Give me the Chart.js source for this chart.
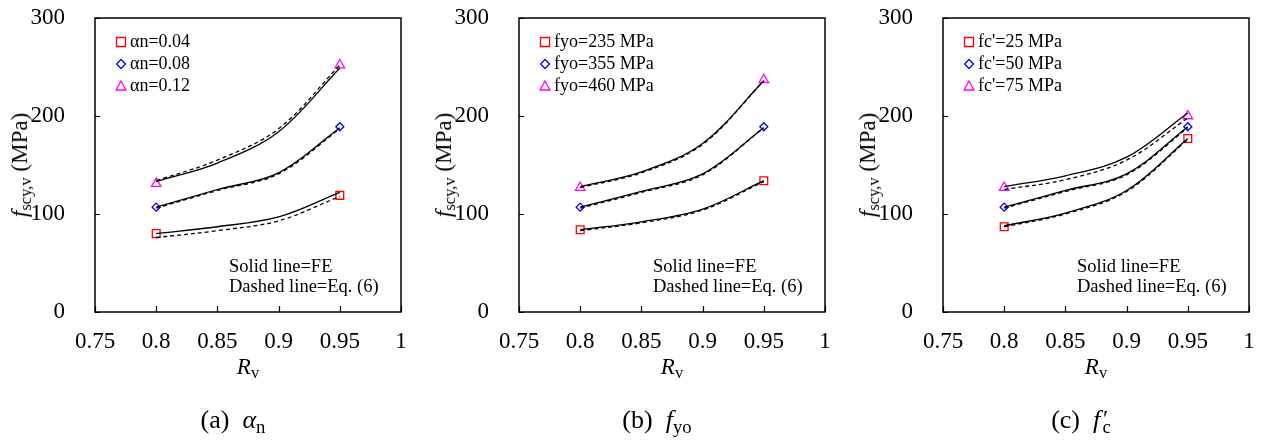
<!DOCTYPE html>
<html>
<head>
<meta charset="utf-8">
<script src="https://cdn.jsdelivr.net/npm/chart.js@4.4.1/dist/chart.umd.min.js"></script>
<style>
  body { margin: 0; background: #fff; width: 1265px; height: 441px; overflow: hidden; font-family: "Liberation Serif", serif; }
  .panel { position: absolute; top: 0; width: 424px; height: 441px; }
  .panel canvas { position: absolute; left: 0; top: 0; }
  .ytitle { position: absolute; left: 20px; top: 165px; transform: translate(-50%, -50%) rotate(-90deg); font-size: 23px; white-space: nowrap; }
  .xtitle { position: absolute; left: 248px; top: 367px; transform: translate(-50%, -50%); font-size: 23px; white-space: nowrap; }
  .caption { position: absolute; left: 233px; top: 420px; transform: translate(-50%, -50%); font-size: 26px; white-space: nowrap; }
  sub { font-size: 0.72em; vertical-align: -0.25em; line-height: 0; }
  sup { font-size: 0.9em; vertical-align: 0.1em; line-height: 0; }
  i { font-style: italic; }
</style>
</head>
<body>

<div class="panel" style="left:0px">
  <canvas id="chartA" width="424" height="441"></canvas>
  <div class="ytitle"><i>f</i><sub>scy,v</sub> (MPa)</div>
  <div class="xtitle"><i>R</i><sub>v</sub></div>
  <div class="caption">(a)&nbsp; <i>α</i><sub>n</sub></div>
</div>
<div class="panel" style="left:424px">
  <canvas id="chartB" width="424" height="441"></canvas>
  <div class="ytitle"><i>f</i><sub>scy,v</sub> (MPa)</div>
  <div class="xtitle"><i>R</i><sub>v</sub></div>
  <div class="caption">(b)&nbsp; <i>f</i><sub>yo</sub></div>
</div>
<div class="panel" style="left:848px">
  <canvas id="chartC" width="424" height="441"></canvas>
  <div class="ytitle"><i>f</i><sub>scy,v</sub> (MPa)</div>
  <div class="xtitle"><i>R</i><sub>v</sub></div>
  <div class="caption">(c)&nbsp; <i>f</i><sup style="margin-left:0.12em">′</sup><sub style="margin-left:-0.3em">c</sub></div>
</div>

<script>
// x positions of the curves and of the markers
const rv = [0.8, 0.85, 0.9, 0.95];
const rvEnds = [0.8, 0.95];

// (a) alpha_n
const alphaLabels = ["αn=0.04", "αn=0.08", "αn=0.12"];
const alphaFE1 = [80, 87, 97, 122];
const alphaEq1 = [76, 83, 93, 118];
const alphaFE2 = [107, 125, 142, 188];
const alphaEq2 = [106, 124, 141, 187];
const alphaFE3 = [133, 152, 184, 249];
const alphaEq3 = [134, 155, 187, 252];
const alphaMk1 = [80, 119];
const alphaMk2 = [107, 189];
const alphaMk3 = [131, 252];

// (b) fyo
const fyoLabels = ["fyo=235 MPa", "fyo=355 MPa", "fyo=460 MPa"];
const fyoFE1 = [84, 92, 105, 134];
const fyoEq1 = [83, 91, 104, 133];
const fyoFE2 = [107, 123, 141, 188];
const fyoEq2 = [106, 122, 140, 188];
const fyoFE3 = [128, 143, 172, 236];
const fyoEq3 = [127, 142, 171, 236];
const fyoMk1 = [84, 134];
const fyoMk2 = [107, 189];
const fyoMk3 = [127, 237];

// (c) fc'
const fcLabels = ["fc'=25 MPa", "fc'=50 MPa", "fc'=75 MPa"];
const fcFE1 = [88, 101, 124, 177];
const fcEq1 = [87, 100, 123, 176];
const fcFE2 = [107, 124, 141, 189];
const fcEq2 = [106, 123, 140, 188];
const fcFE3 = [128, 139, 158, 203];
const fcEq3 = [125, 135, 155, 198];
const fcMk1 = [87, 177];
const fcMk2 = [107, 189];
const fcMk3 = [127, 200];

const markerColors = ["#ff0000", "#0000ff", "#ff00ff"];
const markerStyles = ["rect", "rectRot", "triangle"];
const markerSizes = [5.5, 4, 5.5];

function pts(xs, ys) {
  return xs.map((x, i) => ({ x: x, y: ys[i] }));
}

function lineSet(ys, dashed) {
  return {
    data: pts(rv, ys),
    showLine: true,
    borderColor: "#000",
    borderWidth: 1.3,
    borderDash: dashed ? [4, 3] : [],
    pointRadius: 0,
    tension: 0.35,
    fill: false
  };
}

function markerSet(ys, k, label) {
  return {
    label: label,
    data: pts(rvEnds, ys),
    showLine: false,
    pointStyle: markerStyles[k],
    pointRadius: markerSizes[k],
    borderColor: markerColors[k],
    backgroundColor: "rgba(0,0,0,0)",
    pointBorderWidth: 1.3
  };
}

// frame, inside ticks, legend and the note
const decorPlugin = {
  id: "decor",
  afterDatasetsDraw(chart, args, opts) {
    const ctx = chart.ctx;
    const a = chart.chartArea;
    const xs = chart.scales.x, ys = chart.scales.y;
    ctx.save();
    ctx.strokeStyle = "#000";
    ctx.lineWidth = 1.5;
    ctx.strokeRect(a.left, a.top, a.right - a.left, a.bottom - a.top);
    ctx.lineWidth = 1.2;
    ctx.beginPath();
    xs.ticks.forEach(t => {
      const px = Math.round(xs.getPixelForValue(t.value)) + 0.5;
      ctx.moveTo(px, a.bottom);
      ctx.lineTo(px, a.bottom - 6);
    });
    ys.ticks.forEach(t => {
      const py = Math.round(ys.getPixelForValue(t.value)) + 0.5;
      ctx.moveTo(a.left, py);
      ctx.lineTo(a.left + 5, py);
    });
    ctx.stroke();

    // legend
    ctx.font = "18px 'Liberation Serif'";
    ctx.textBaseline = "middle";
    ctx.fillStyle = "#000";
    opts.labels.forEach((lab, k) => {
      const cy = a.top + 24 + k * 22;
      const cx = a.left + 26;
      ctx.strokeStyle = markerColors[k];
      ctx.lineWidth = 1.3;
      ctx.beginPath();
      if (k === 0) {
        ctx.rect(cx - 4.5, cy - 4.5, 9, 9);
      } else if (k === 1) {
        ctx.moveTo(cx, cy - 4.5); ctx.lineTo(cx + 4.5, cy); ctx.lineTo(cx, cy + 4.5); ctx.lineTo(cx - 4.5, cy); ctx.closePath();
      } else {
        ctx.moveTo(cx, cy - 5); ctx.lineTo(cx + 5, cy + 4); ctx.lineTo(cx - 5, cy + 4); ctx.closePath();
      }
      ctx.stroke();
      ctx.fillText(lab, cx + 9, cy);
    });

    ctx.font = "18.5px 'Liberation Serif'";
    ctx.fillText("Solid line=FE", a.left + 134, a.top + 249);
    ctx.fillText("Dashed line=Eq. (6)", a.left + 134, a.top + 269);
    ctx.restore();
  }
};

function makeChart(id, labels, fe, eq, mk) {
  const datasets = [];
  for (let k = 0; k < 3; k++) {
    datasets.push(lineSet(fe[k], false));
    datasets.push(lineSet(eq[k], true));
    datasets.push(markerSet(mk[k], k, labels[k]));
  }
  return new Chart(document.getElementById(id), {
    type: "scatter",
    data: { datasets: datasets },
    plugins: [decorPlugin],
    options: {
      responsive: false,
      animation: false,
      layout: { padding: { left: 0, right: 23, top: 18, bottom: 0 } },
      plugins: {
        legend: { display: false },
        tooltip: { enabled: false },
        decor: { labels: labels }
      },
      scales: {
        x: {
          type: "linear",
          min: 0.75,
          max: 1,
          grid: { display: false },
          border: { display: false },
          afterFit: s => { s.height = 441 - 312; s.paddingLeft = 0; s.paddingRight = 0; },
          ticks: {
            stepSize: 0.05,
            color: "#000",
            padding: 8,
            maxRotation: 0,
            font: { family: "Liberation Serif", size: 23 },
            callback: v => String(Number(v.toFixed(2)))
          }
        },
        y: {
          min: 0,
          max: 300,
          grid: { display: false },
          border: { display: false },
          afterFit: s => { s.width = 95; s.paddingTop = 0; s.paddingBottom = 0; },
          ticks: {
            stepSize: 100,
            color: "#000",
            padding: 22,
            font: { family: "Liberation Serif", size: 23 }
          }
        }
      }
    }
  });
}

makeChart("chartA", alphaLabels,
  [alphaFE1, alphaFE2, alphaFE3], [alphaEq1, alphaEq2, alphaEq3], [alphaMk1, alphaMk2, alphaMk3]);
makeChart("chartB", fyoLabels,
  [fyoFE1, fyoFE2, fyoFE3], [fyoEq1, fyoEq2, fyoEq3], [fyoMk1, fyoMk2, fyoMk3]);
makeChart("chartC", fcLabels,
  [fcFE1, fcFE2, fcFE3], [fcEq1, fcEq2, fcEq3], [fcMk1, fcMk2, fcMk3]);
</script>
</body>
</html>
